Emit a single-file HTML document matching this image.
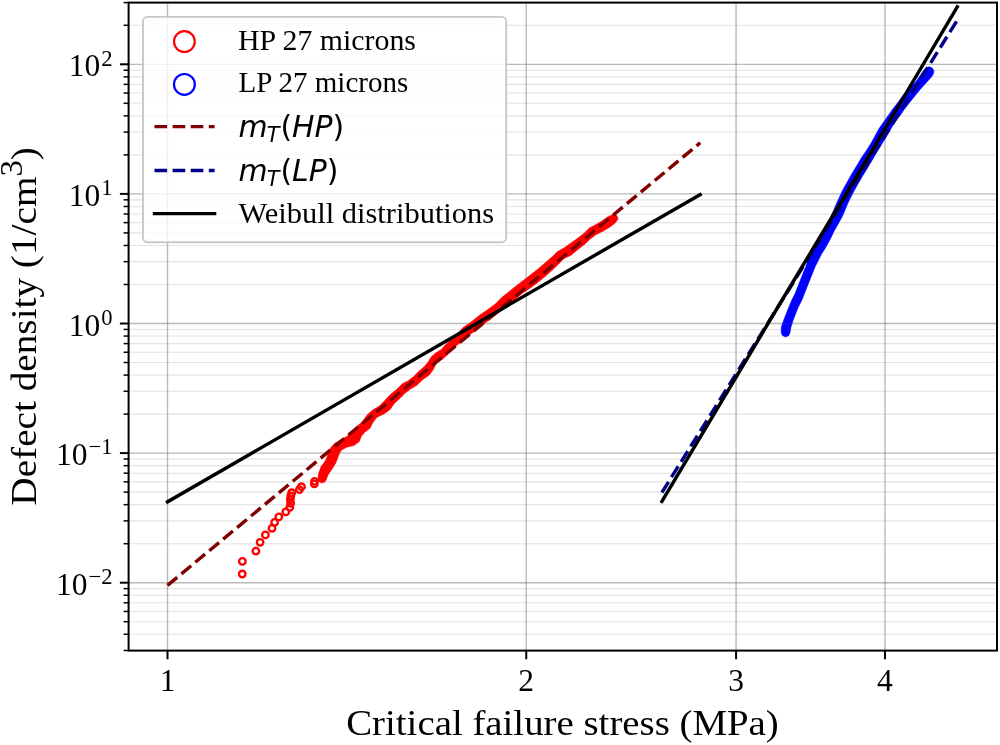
<!DOCTYPE html>
<html lang="en"><head><meta charset="utf-8"><title>Defect density vs critical failure stress</title>
<style>html,body{margin:0;padding:0;background:#fff;overflow:hidden}svg{display:block;will-change:transform}text{font-family:'Liberation Serif', 'DejaVu Serif', serif;fill:#000}.m{font-family:'DejaVu Sans', 'Liberation Sans', sans-serif;font-style:oblique}</style>
</head><body>
<svg width="1000" height="745" viewBox="0 0 1000 745">
<rect x="0" y="0" width="1000" height="745" fill="#ffffff"/>
<defs><clipPath id="ax"><rect x="128.6" y="2.6" width="868.4" height="648.0"/></clipPath></defs>
<g clip-path="url(#ax)" stroke="#808080" fill="none">
<g stroke-width="1.1" stroke-opacity="0.180">
<line x1="128.6" x2="997.0" y1="634.27" y2="634.27"/>
<line x1="128.6" x2="997.0" y1="621.71" y2="621.71"/>
<line x1="128.6" x2="997.0" y1="611.45" y2="611.45"/>
<line x1="128.6" x2="997.0" y1="602.78" y2="602.78"/>
<line x1="128.6" x2="997.0" y1="595.26" y2="595.26"/>
<line x1="128.6" x2="997.0" y1="588.63" y2="588.63"/>
<line x1="128.6" x2="997.0" y1="543.69" y2="543.69"/>
<line x1="128.6" x2="997.0" y1="520.87" y2="520.87"/>
<line x1="128.6" x2="997.0" y1="504.67" y2="504.67"/>
<line x1="128.6" x2="997.0" y1="492.11" y2="492.11"/>
<line x1="128.6" x2="997.0" y1="481.85" y2="481.85"/>
<line x1="128.6" x2="997.0" y1="473.18" y2="473.18"/>
<line x1="128.6" x2="997.0" y1="465.66" y2="465.66"/>
<line x1="128.6" x2="997.0" y1="459.03" y2="459.03"/>
<line x1="128.6" x2="997.0" y1="414.09" y2="414.09"/>
<line x1="128.6" x2="997.0" y1="391.27" y2="391.27"/>
<line x1="128.6" x2="997.0" y1="375.07" y2="375.07"/>
<line x1="128.6" x2="997.0" y1="362.51" y2="362.51"/>
<line x1="128.6" x2="997.0" y1="352.25" y2="352.25"/>
<line x1="128.6" x2="997.0" y1="343.58" y2="343.58"/>
<line x1="128.6" x2="997.0" y1="336.06" y2="336.06"/>
<line x1="128.6" x2="997.0" y1="329.43" y2="329.43"/>
<line x1="128.6" x2="997.0" y1="284.49" y2="284.49"/>
<line x1="128.6" x2="997.0" y1="261.67" y2="261.67"/>
<line x1="128.6" x2="997.0" y1="245.47" y2="245.47"/>
<line x1="128.6" x2="997.0" y1="232.91" y2="232.91"/>
<line x1="128.6" x2="997.0" y1="222.65" y2="222.65"/>
<line x1="128.6" x2="997.0" y1="213.98" y2="213.98"/>
<line x1="128.6" x2="997.0" y1="206.46" y2="206.46"/>
<line x1="128.6" x2="997.0" y1="199.83" y2="199.83"/>
<line x1="128.6" x2="997.0" y1="154.89" y2="154.89"/>
<line x1="128.6" x2="997.0" y1="132.07" y2="132.07"/>
<line x1="128.6" x2="997.0" y1="115.87" y2="115.87"/>
<line x1="128.6" x2="997.0" y1="103.31" y2="103.31"/>
<line x1="128.6" x2="997.0" y1="93.05" y2="93.05"/>
<line x1="128.6" x2="997.0" y1="84.38" y2="84.38"/>
<line x1="128.6" x2="997.0" y1="76.86" y2="76.86"/>
<line x1="128.6" x2="997.0" y1="70.23" y2="70.23"/>
<line x1="128.6" x2="997.0" y1="25.29" y2="25.29"/>
</g>
<g stroke-width="1.35" stroke-opacity="0.470">
<line x1="128.6" x2="997.0" y1="582.70" y2="582.70"/>
<line x1="128.6" x2="997.0" y1="453.10" y2="453.10"/>
<line x1="128.6" x2="997.0" y1="323.50" y2="323.50"/>
<line x1="128.6" x2="997.0" y1="193.90" y2="193.90"/>
<line x1="128.6" x2="997.0" y1="64.30" y2="64.30"/>
<line x1="167.50" x2="167.50" y1="2.6" y2="650.6"/>
<line x1="526.24" x2="526.24" y1="2.6" y2="650.6"/>
<line x1="736.09" x2="736.09" y1="2.6" y2="650.6"/>
<line x1="884.97" x2="884.97" y1="2.6" y2="650.6"/>
</g></g>
<g clip-path="url(#ax)">
<g fill="none" stroke="#ff0000" stroke-width="2.35">
<circle cx="242.25" cy="574.00" r="3.25"/>
<circle cx="242.35" cy="561.40" r="3.25"/>
<circle cx="255.90" cy="551.05" r="3.25"/>
<circle cx="260.10" cy="542.30" r="3.25"/>
<circle cx="265.40" cy="534.90" r="3.25"/>
<circle cx="272.00" cy="528.30" r="3.25"/>
<circle cx="274.60" cy="522.30" r="3.25"/>
<circle cx="278.80" cy="516.90" r="3.25"/>
<circle cx="285.80" cy="511.90" r="3.25"/>
<circle cx="289.80" cy="507.40" r="3.25"/>
<circle cx="290.60" cy="503.30" r="3.25"/>
<circle cx="290.30" cy="499.50" r="3.25"/>
<circle cx="290.80" cy="496.00" r="3.25"/>
<circle cx="291.70" cy="492.70" r="3.25"/>
<circle cx="299.40" cy="489.60" r="3.25"/>
<circle cx="301.50" cy="486.70" r="3.25"/>
<circle cx="314.30" cy="483.90" r="3.25"/>
<circle cx="314.60" cy="481.30" r="3.25"/>
</g>
<polygon points="318.0,478.5 318.6,473.5 321.0,466.8 325.5,460.5 328.0,454.5 330.5,448.0 334.5,443.5 341.0,439.5 347.2,436.2 353.9,428.9 362.0,422.1 367.3,414.8 372.7,410.1 379.4,406.0 384.8,400.5 390.4,394.5 397.1,389.1 402.4,383.7 407.8,381.0 413.2,377.0 418.6,371.6 423.9,366.9 428.0,362.2 431.3,356.8 436.0,352.8 441.4,349.5 445.4,344.8 450.8,340.0 457.5,333.5 463.1,327.5 471.1,322.1 479.2,315.4 487.2,310.0 495.3,304.0 502.0,297.3 508.7,291.9 515.4,286.5 523.5,280.3 531.0,274.5 538.3,268.8 545.5,262.5 552.5,256.5 557.2,251.8 563.9,248.0 570.6,243.3 577.3,238.6 584.1,233.3 589.4,227.9 594.8,225.2 601.5,221.2 608.2,216.5 613.6,214.6 616.5,215.3 617.9,217.8 617.6,219.8 614.9,223.2 609.6,227.2 602.9,231.2 596.1,234.6 590.8,238.6 584.1,244.7 577.3,250.0 570.6,255.4 563.9,258.6 558.6,264.1 551.8,270.6 545.3,276.3 538.3,282.0 531.0,287.5 522.1,293.5 514.1,300.2 507.3,306.2 500.6,311.4 492.6,317.4 484.5,323.5 476.5,330.2 468.4,335.5 464.2,340.1 457.5,344.8 450.8,350.1 448.1,354.2 442.7,358.9 436.0,363.6 433.3,369.6 429.3,375.0 422.6,379.7 417.2,385.0 410.5,389.1 405.1,393.1 399.8,398.5 394.2,403.6 390.3,409.3 384.8,413.4 376.7,417.4 372.7,422.8 370.0,428.2 364.7,432.2 361.3,436.2 359.3,441.6 353.9,445.6 347.2,447.0 341.8,449.7 339.2,453.7 335.8,463.1 332.4,468.5 327.8,475.2 326.4,479.5 324.5,482.2 321.5,483.0 318.8,481.5" fill="#ff0000" stroke="#ff0000" stroke-width="0.6" stroke-linejoin="round"/>
<polygon points="781.2,332.5 781.3,327.2 783.6,320.5 786.2,313.8 788.9,307.1 791.6,300.4 795.0,293.7 797.7,287.0 800.3,280.3 803.0,273.6 805.7,266.8 808.4,260.1 811.7,253.4 815.1,246.7 818.5,240.0 820.2,237.2 824.2,230.5 827.6,223.8 830.5,217.1 833.6,210.4 836.4,203.7 839.5,197.0 842.6,190.3 846.4,183.6 850.1,176.8 854.1,170.1 858.1,163.4 862.1,156.7 866.8,150.0 871.6,142.2 875.3,135.5 878.9,128.8 883.6,122.1 888.3,115.4 893.0,108.7 898.3,102.0 903.0,95.3 909.0,88.6 915.8,81.8 920.5,75.1 923.5,70.5 926.0,67.8 929.2,66.8 932.0,67.8 933.8,70.5 933.7,73.0 931.8,76.5 926.2,82.8 920.1,89.6 914.8,96.0 909.6,102.5 904.4,109.2 899.7,115.9 895.0,122.1 890.9,128.8 886.9,135.5 882.9,142.2 878.5,149.5 875.0,155.0 873.2,158.5 869.5,164.5 865.8,170.8 862.1,176.8 858.2,183.6 854.4,190.3 850.9,197.0 847.6,203.7 844.9,210.4 842.0,217.1 838.3,223.8 834.4,230.5 831.2,237.2 827.6,244.0 824.5,249.5 821.8,253.4 818.5,260.1 815.1,266.8 812.4,273.6 809.7,280.3 807.0,287.0 804.4,293.7 801.7,300.4 798.3,307.1 795.6,313.8 793.0,320.5 790.9,327.2 790.0,332.5 788.8,335.5 785.6,336.9 782.4,335.5" fill="#0000ff" stroke="#0000ff" stroke-width="0.6" stroke-linejoin="round"/>
</g>
<g clip-path="url(#ax)" stroke="#808080" fill="none">
<g stroke-width="1.1" stroke-opacity="0.050">
<line x1="128.6" x2="997.0" y1="634.27" y2="634.27"/>
<line x1="128.6" x2="997.0" y1="621.71" y2="621.71"/>
<line x1="128.6" x2="997.0" y1="611.45" y2="611.45"/>
<line x1="128.6" x2="997.0" y1="602.78" y2="602.78"/>
<line x1="128.6" x2="997.0" y1="595.26" y2="595.26"/>
<line x1="128.6" x2="997.0" y1="588.63" y2="588.63"/>
<line x1="128.6" x2="997.0" y1="543.69" y2="543.69"/>
<line x1="128.6" x2="997.0" y1="520.87" y2="520.87"/>
<line x1="128.6" x2="997.0" y1="504.67" y2="504.67"/>
<line x1="128.6" x2="997.0" y1="492.11" y2="492.11"/>
<line x1="128.6" x2="997.0" y1="481.85" y2="481.85"/>
<line x1="128.6" x2="997.0" y1="473.18" y2="473.18"/>
<line x1="128.6" x2="997.0" y1="465.66" y2="465.66"/>
<line x1="128.6" x2="997.0" y1="459.03" y2="459.03"/>
<line x1="128.6" x2="997.0" y1="414.09" y2="414.09"/>
<line x1="128.6" x2="997.0" y1="391.27" y2="391.27"/>
<line x1="128.6" x2="997.0" y1="375.07" y2="375.07"/>
<line x1="128.6" x2="997.0" y1="362.51" y2="362.51"/>
<line x1="128.6" x2="997.0" y1="352.25" y2="352.25"/>
<line x1="128.6" x2="997.0" y1="343.58" y2="343.58"/>
<line x1="128.6" x2="997.0" y1="336.06" y2="336.06"/>
<line x1="128.6" x2="997.0" y1="329.43" y2="329.43"/>
<line x1="128.6" x2="997.0" y1="284.49" y2="284.49"/>
<line x1="128.6" x2="997.0" y1="261.67" y2="261.67"/>
<line x1="128.6" x2="997.0" y1="245.47" y2="245.47"/>
<line x1="128.6" x2="997.0" y1="232.91" y2="232.91"/>
<line x1="128.6" x2="997.0" y1="222.65" y2="222.65"/>
<line x1="128.6" x2="997.0" y1="213.98" y2="213.98"/>
<line x1="128.6" x2="997.0" y1="206.46" y2="206.46"/>
<line x1="128.6" x2="997.0" y1="199.83" y2="199.83"/>
<line x1="128.6" x2="997.0" y1="154.89" y2="154.89"/>
<line x1="128.6" x2="997.0" y1="132.07" y2="132.07"/>
<line x1="128.6" x2="997.0" y1="115.87" y2="115.87"/>
<line x1="128.6" x2="997.0" y1="103.31" y2="103.31"/>
<line x1="128.6" x2="997.0" y1="93.05" y2="93.05"/>
<line x1="128.6" x2="997.0" y1="84.38" y2="84.38"/>
<line x1="128.6" x2="997.0" y1="76.86" y2="76.86"/>
<line x1="128.6" x2="997.0" y1="70.23" y2="70.23"/>
<line x1="128.6" x2="997.0" y1="25.29" y2="25.29"/>
</g>
<g stroke-width="1.35" stroke-opacity="0.130">
<line x1="128.6" x2="997.0" y1="582.70" y2="582.70"/>
<line x1="128.6" x2="997.0" y1="453.10" y2="453.10"/>
<line x1="128.6" x2="997.0" y1="323.50" y2="323.50"/>
<line x1="128.6" x2="997.0" y1="193.90" y2="193.90"/>
<line x1="128.6" x2="997.0" y1="64.30" y2="64.30"/>
<line x1="167.50" x2="167.50" y1="2.6" y2="650.6"/>
<line x1="526.24" x2="526.24" y1="2.6" y2="650.6"/>
<line x1="736.09" x2="736.09" y1="2.6" y2="650.6"/>
<line x1="884.97" x2="884.97" y1="2.6" y2="650.6"/>
</g></g>
<g clip-path="url(#ax)" fill="none" stroke-width="3.42">
<line x1="167.5" y1="585.4" x2="700.2" y2="142.8" stroke="#800000" stroke-dasharray="12.64 5.46"/>
<line x1="661.9" y1="492.5" x2="957.1" y2="20.5" stroke="#00008b" stroke-dasharray="12.64 5.46"/>
<line x1="167.5" y1="501.8" x2="700.2" y2="194.5" stroke="#000" stroke-linecap="square"/>
<polyline points="661.9,501.5 782.1,300.0 818.2,240.0 857.5,175.0 896.1,110.0 957.3,6.8" stroke="#000" stroke-linecap="square" stroke-linejoin="round"/>
</g>
<rect x="128.6" y="2.6" width="868.4" height="648.0" fill="none" stroke="#000" stroke-width="2"/>
<g stroke="#000" fill="none">
<line x1="119.9" x2="128.6" y1="582.70" y2="582.70" stroke-width="2"/>
<line x1="119.9" x2="128.6" y1="453.10" y2="453.10" stroke-width="2"/>
<line x1="119.9" x2="128.6" y1="323.50" y2="323.50" stroke-width="2"/>
<line x1="119.9" x2="128.6" y1="193.90" y2="193.90" stroke-width="2"/>
<line x1="119.9" x2="128.6" y1="64.30" y2="64.30" stroke-width="2"/>
<line x1="123.6" x2="128.6" y1="650.47" y2="650.47" stroke-width="1.5"/>
<line x1="123.6" x2="128.6" y1="634.27" y2="634.27" stroke-width="1.5"/>
<line x1="123.6" x2="128.6" y1="621.71" y2="621.71" stroke-width="1.5"/>
<line x1="123.6" x2="128.6" y1="611.45" y2="611.45" stroke-width="1.5"/>
<line x1="123.6" x2="128.6" y1="602.78" y2="602.78" stroke-width="1.5"/>
<line x1="123.6" x2="128.6" y1="595.26" y2="595.26" stroke-width="1.5"/>
<line x1="123.6" x2="128.6" y1="588.63" y2="588.63" stroke-width="1.5"/>
<line x1="123.6" x2="128.6" y1="543.69" y2="543.69" stroke-width="1.5"/>
<line x1="123.6" x2="128.6" y1="520.87" y2="520.87" stroke-width="1.5"/>
<line x1="123.6" x2="128.6" y1="504.67" y2="504.67" stroke-width="1.5"/>
<line x1="123.6" x2="128.6" y1="492.11" y2="492.11" stroke-width="1.5"/>
<line x1="123.6" x2="128.6" y1="481.85" y2="481.85" stroke-width="1.5"/>
<line x1="123.6" x2="128.6" y1="473.18" y2="473.18" stroke-width="1.5"/>
<line x1="123.6" x2="128.6" y1="465.66" y2="465.66" stroke-width="1.5"/>
<line x1="123.6" x2="128.6" y1="459.03" y2="459.03" stroke-width="1.5"/>
<line x1="123.6" x2="128.6" y1="414.09" y2="414.09" stroke-width="1.5"/>
<line x1="123.6" x2="128.6" y1="391.27" y2="391.27" stroke-width="1.5"/>
<line x1="123.6" x2="128.6" y1="375.07" y2="375.07" stroke-width="1.5"/>
<line x1="123.6" x2="128.6" y1="362.51" y2="362.51" stroke-width="1.5"/>
<line x1="123.6" x2="128.6" y1="352.25" y2="352.25" stroke-width="1.5"/>
<line x1="123.6" x2="128.6" y1="343.58" y2="343.58" stroke-width="1.5"/>
<line x1="123.6" x2="128.6" y1="336.06" y2="336.06" stroke-width="1.5"/>
<line x1="123.6" x2="128.6" y1="329.43" y2="329.43" stroke-width="1.5"/>
<line x1="123.6" x2="128.6" y1="284.49" y2="284.49" stroke-width="1.5"/>
<line x1="123.6" x2="128.6" y1="261.67" y2="261.67" stroke-width="1.5"/>
<line x1="123.6" x2="128.6" y1="245.47" y2="245.47" stroke-width="1.5"/>
<line x1="123.6" x2="128.6" y1="232.91" y2="232.91" stroke-width="1.5"/>
<line x1="123.6" x2="128.6" y1="222.65" y2="222.65" stroke-width="1.5"/>
<line x1="123.6" x2="128.6" y1="213.98" y2="213.98" stroke-width="1.5"/>
<line x1="123.6" x2="128.6" y1="206.46" y2="206.46" stroke-width="1.5"/>
<line x1="123.6" x2="128.6" y1="199.83" y2="199.83" stroke-width="1.5"/>
<line x1="123.6" x2="128.6" y1="154.89" y2="154.89" stroke-width="1.5"/>
<line x1="123.6" x2="128.6" y1="132.07" y2="132.07" stroke-width="1.5"/>
<line x1="123.6" x2="128.6" y1="115.87" y2="115.87" stroke-width="1.5"/>
<line x1="123.6" x2="128.6" y1="103.31" y2="103.31" stroke-width="1.5"/>
<line x1="123.6" x2="128.6" y1="93.05" y2="93.05" stroke-width="1.5"/>
<line x1="123.6" x2="128.6" y1="84.38" y2="84.38" stroke-width="1.5"/>
<line x1="123.6" x2="128.6" y1="76.86" y2="76.86" stroke-width="1.5"/>
<line x1="123.6" x2="128.6" y1="70.23" y2="70.23" stroke-width="1.5"/>
<line x1="123.6" x2="128.6" y1="25.29" y2="25.29" stroke-width="1.5"/>
<line x1="123.6" x2="128.6" y1="2.60" y2="2.60" stroke-width="1.5"/>
<line x1="167.50" x2="167.50" y1="650.6" y2="659.3" stroke-width="2"/>
<line x1="526.24" x2="526.24" y1="650.6" y2="659.3" stroke-width="2"/>
<line x1="736.09" x2="736.09" y1="650.6" y2="659.3" stroke-width="2"/>
<line x1="884.97" x2="884.97" y1="650.6" y2="659.3" stroke-width="2"/>
</g>
<text x="167.50" y="691.0" font-size="31.5" text-anchor="middle">1</text>
<text x="526.24" y="691.0" font-size="31.5" text-anchor="middle">2</text>
<text x="736.09" y="691.0" font-size="31.5" text-anchor="middle">3</text>
<text x="884.97" y="691.0" font-size="31.5" text-anchor="middle">4</text>
<text x="112.6" y="76.3" font-size="31.5" text-anchor="end">10<tspan font-size="22.6" dx="1.1" dy="-10.7">2</tspan></text>
<text x="112.6" y="205.9" font-size="31.5" text-anchor="end">10<tspan font-size="22.6" dx="1.1" dy="-10.7">1</tspan></text>
<text x="112.6" y="335.5" font-size="31.5" text-anchor="end">10<tspan font-size="22.6" dx="1.1" dy="-10.7">0</tspan></text>
<text x="112.6" y="465.1" font-size="31.5" text-anchor="end">10<tspan font-size="22.6" dx="1.1" dy="-10.7">−1</tspan></text>
<text x="112.6" y="594.7" font-size="31.5" text-anchor="end">10<tspan font-size="22.6" dx="1.1" dy="-10.7">−2</tspan></text>
<text x="562.5" y="735.1" font-size="36.5" text-anchor="middle" textLength="432.6" lengthAdjust="spacingAndGlyphs">Critical failure stress (MPa)</text>
<text transform="translate(36.0,326.4) rotate(-90)" font-size="36.5" text-anchor="middle" textLength="358.6" lengthAdjust="spacingAndGlyphs">Defect density (1/cm<tspan font-size="30.5" dy="-14">3</tspan><tspan dy="14">)</tspan></text>
<rect x="143" y="16.9" width="363.2" height="225.3" rx="4.5" ry="4.5" fill="#ffffff" fill-opacity="0.8" stroke="#c2c2c2" stroke-opacity="0.9" stroke-width="1.9"/>
<circle cx="184.4" cy="41.6" r="10.4" fill="none" stroke="#ff0000" stroke-width="2.2"/>
<circle cx="184.4" cy="84.4" r="10.4" fill="none" stroke="#0000ff" stroke-width="2.2"/>
<line x1="154.5" x2="214.6" y1="126.6" y2="126.6" stroke="#800000" stroke-width="3.42" stroke-dasharray="12.64 5.46"/>
<line x1="154.5" x2="214.6" y1="170.5" y2="170.5" stroke="#00008b" stroke-width="3.42" stroke-dasharray="12.64 5.46"/>
<line x1="154.5" x2="214.6" y1="213.6" y2="213.6" stroke="#000" stroke-width="3.42" stroke-linecap="square"/>
<text x="238.0" y="50.0" font-size="29.0" textLength="178.0" lengthAdjust="spacingAndGlyphs">HP 27 microns</text>
<text x="238.6" y="92.4" font-size="29.0" textLength="169.6" lengthAdjust="spacingAndGlyphs">LP 27 microns</text>
<text class="m" x="238.5" y="137.2" font-size="29.9">m<tspan font-size="20.9" dx="-0.9" dy="4.4">T</tspan><tspan dx="0.9" dy="-4.4" style="font-style:normal">(</tspan>HP<tspan style="font-style:normal">)</tspan></text>
<text class="m" x="238.5" y="181.1" font-size="29.9">m<tspan font-size="20.9" dx="-0.9" dy="4.4">T</tspan><tspan dx="0.9" dy="-4.4" style="font-style:normal">(</tspan>LP<tspan style="font-style:normal">)</tspan></text>
<text x="238.4" y="223.0" font-size="29.0" textLength="255.8" lengthAdjust="spacingAndGlyphs">Weibull distributions</text>
</svg></body></html>
